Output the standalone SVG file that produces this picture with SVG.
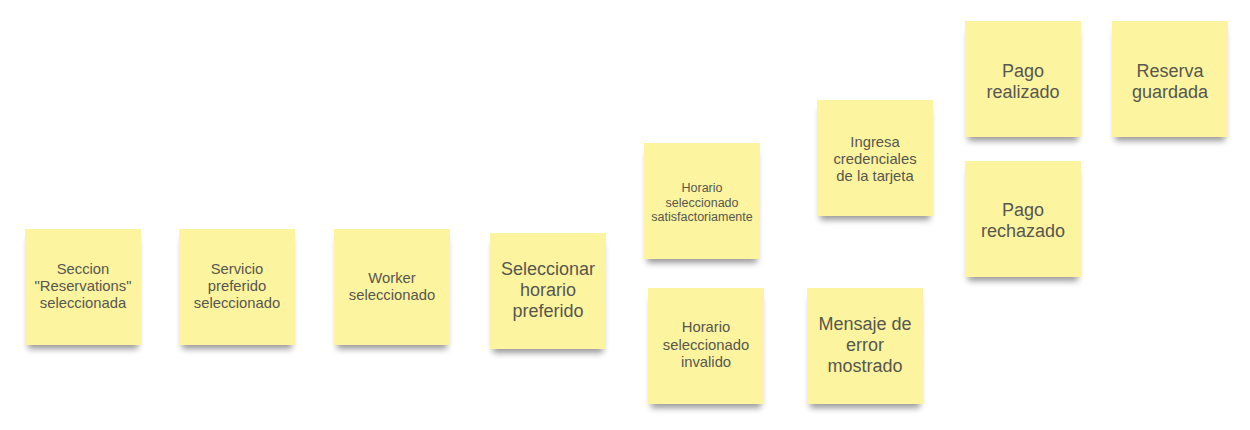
<svg xmlns="http://www.w3.org/2000/svg" width="1250" height="430" viewBox="0 0 1250 430">
<defs>
<filter id="sh" x="-20%" y="-20%" width="140%" height="150%">
<feMorphology in="SourceAlpha" operator="erode" radius="3" result="e"/>
<feGaussianBlur in="e" stdDeviation="3"/>
<feOffset dy="7" result="b"/>
<feComponentTransfer><feFuncA type="linear" slope="0.4"/></feComponentTransfer>
<feMerge><feMergeNode/><feMergeNode in="SourceGraphic"/></feMerge>
</filter>
</defs>
<style>
.note{fill:#fdf4a0;filter:url(#sh)}
text{font-family:"Liberation Sans",Arial,sans-serif;fill:#57574e;text-anchor:middle}
.s{font-size:14.8px}
.l{font-size:18px}
.xs{font-size:12.5px}
</style>
<rect width="1250" height="430" fill="#ffffff"/>
<g id="connectors"></g>
<g id="n1"><rect class="note" x="25" y="229" width="116" height="116"/>
<text class="s"><tspan x="83" y="274">Seccion</tspan><tspan x="83" y="291">"Reservations"</tspan><tspan x="83" y="308">seleccionada</tspan></text></g>
<g id="n2"><rect class="note" x="179" y="229" width="116" height="116"/>
<text class="s"><tspan x="237" y="274">Servicio</tspan><tspan x="237" y="291">preferido</tspan><tspan x="237" y="308">seleccionado</tspan></text></g>
<g id="n3"><rect class="note" x="334" y="229" width="116" height="116"/>
<text class="s"><tspan x="392" y="283">Worker</tspan><tspan x="392" y="300">seleccionado</tspan></text></g>
<g id="n4"><rect class="note" x="490" y="233" width="116" height="116"/>
<text class="l"><tspan x="548" y="275">Seleccionar</tspan><tspan x="548" y="296">horario</tspan><tspan x="548" y="317">preferido</tspan></text></g>
<g id="n5"><rect class="note" x="644" y="143" width="116" height="116"/>
<text class="xs"><tspan x="702" y="192">Horario</tspan><tspan x="702" y="207">seleccionado</tspan><tspan x="702" y="221">satisfactoriamente</tspan></text></g>
<g id="n6"><rect class="note" x="648" y="288" width="116" height="116"/>
<text class="s"><tspan x="706" y="332">Horario</tspan><tspan x="706" y="350">seleccionado</tspan><tspan x="706" y="367">invalido</tspan></text></g>
<g id="n7"><rect class="note" x="807" y="288" width="116" height="116"/>
<text class="l"><tspan x="865" y="330">Mensaje de</tspan><tspan x="865" y="351">error</tspan><tspan x="865" y="372">mostrado</tspan></text></g>
<g id="n8"><rect class="note" x="817" y="100" width="116" height="116"/>
<text class="s"><tspan x="875" y="147">Ingresa</tspan><tspan x="875" y="164">credenciales</tspan><tspan x="875" y="181">de la tarjeta</tspan></text></g>
<g id="n9"><rect class="note" x="965" y="21" width="116" height="116"/>
<text class="l"><tspan x="1023" y="77">Pago</tspan><tspan x="1023" y="98">realizado</tspan></text></g>
<g id="n10"><rect class="note" x="1112" y="21" width="116" height="116"/>
<text class="l"><tspan x="1170" y="77">Reserva</tspan><tspan x="1170" y="98">guardada</tspan></text></g>
<g id="n11"><rect class="note" x="965" y="161" width="116" height="116"/>
<text class="l"><tspan x="1023" y="216">Pago</tspan><tspan x="1023" y="237">rechazado</tspan></text></g>
</svg>
